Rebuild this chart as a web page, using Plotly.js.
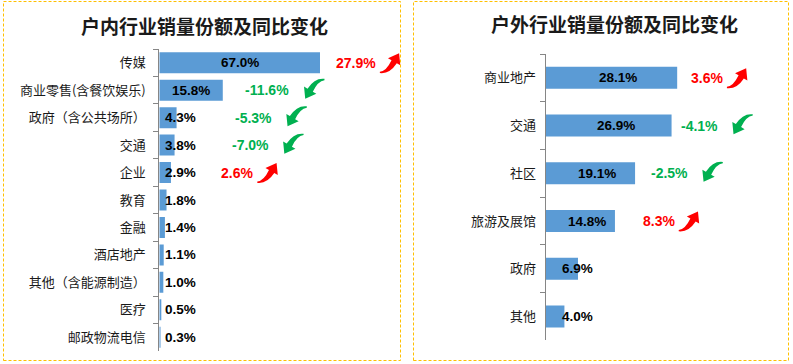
<!DOCTYPE html>
<html><head><meta charset="utf-8">
<script src="https://cdn.plot.ly/plotly-3.0.1.min.js"></script>
<style>html,body{margin:0;padding:0;background:#fff}#chart{width:793px;height:364px}</style>
</head><body><div id="chart"></div>
<script>
// ---- data ----
var indoorCategories = ['传媒','商业零售(含餐饮娱乐)','政府（含公共场所）','交通','企业','教育','金融','酒店地产','其他（含能源制造）','医疗','邮政物流电信'];
var indoorShare = [67.0,15.8,4.3,3.8,2.9,1.8,1.4,1.1,1.0,0.5,0.3];
var indoorChange = [27.9,-11.6,-5.3,-7.0,2.6,null,null,null,null,null,null];
var outdoorCategories = ['商业地产','交通','社区','旅游及展馆','政府','其他'];
var outdoorShare = [28.1,26.9,19.1,14.8,6.9,4.0];
var outdoorChange = [3.6,-4.1,-2.5,8.3,null,null];
var indoorTitle = '户内行业销量份额及同比变化';
var outdoorTitle = '户外行业销量份额及同比变化';

// ---- layout config ----
var W = 793, H = 364;
var panels = [
  {cats: indoorCategories, vals: indoorShare, chg: indoorChange, xa: 'x', ya: 'y',
   px0: 159.3, px1: 320, py0: 49, py1: 351, xmax: 40, minLabelX: 5.3, labelPad: 0, barW: 0.765,
   standoff: 10, chgRight: [54.4, 32.9, 28.5, 27.7, 23.9], title: indoorTitle, titleX: 204, titleY: 25.5,
   box: [3.5, 1.5, 400.5, 360.5]},
  {cats: outdoorCategories, vals: outdoorShare, chg: outdoorChange, xa: 'x2', ya: 'y2',
   px0: 545.7, px1: 770.3, py0: 54, py1: 340.3, xmax: 48, minLabelX: 6.7, labelPad: 1.5, barW: 0.461,
   standoff: 6, chgRight: [38.3, 37.2, 30.8, 28.0], title: outdoorTitle, titleX: 614, titleY: 24,
   box: [413.5, 1.5, 788.5, 360.5]}
];

var BAR = '#5B9BD5', RED = '#FF0000', GREEN = '#00B050', AXIS = '#868686';
var NUMFONT = 'Liberation Sans, Arial, sans-serif';
var CJK = 'Noto Sans CJK SC, sans-serif';

// curved arrow outline (local pixels, y up), tail at origin, head up-right
var arrowPts = [['M',[0,-0.3]],['Q',[8.8,-1.4],[15.4,8.6]],['L',[18.6,6.75]],['L',[17.5,17.8]],['L',[7.4,13.25]],['L',[10.6,11.4]],['Q',[6,1.6],[0,0.9]],['Z']];
var arrowScale = 1.1;
function arrowPath(s, ox, oy) {
  return arrowPts.map(function (seg) {
    var c = seg[0];
    var pts = seg.slice(1).map(function (p) {
      return (ox + s * arrowScale * p[0]).toFixed(2) + ',' + (oy + s * arrowScale * p[1]).toFixed(2);
    });
    return c + pts.join(' ');
  }).join(' ');
}

var data = [], annotations = [], shapes = [];
var layout = {
  width: W, height: H, margin: {l: 0, r: 0, t: 0, b: 0},
  paper_bgcolor: '#fff', plot_bgcolor: 'rgba(0,0,0,0)',
  showlegend: false, hovermode: false
};

panels.forEach(function (p, pi) {
  var n = p.cats.length;
  var sfx = pi === 0 ? '' : '2';
  data.push({
    type: 'bar', orientation: 'h', x: p.vals, y: p.cats, xaxis: p.xa, yaxis: p.ya,
    width: p.barW, marker: {color: BAR, line: {width: 0}}, hoverinfo: 'none'
  });
  layout['xaxis' + sfx] = {
    domain: [p.px0 / W, p.px1 / W], range: [0, p.xmax], anchor: p.ya,
    visible: false, fixedrange: true
  };
  layout['yaxis' + sfx] = {
    domain: [1 - p.py1 / H, 1 - p.py0 / H], anchor: p.xa, type: 'category',
    autorange: 'reversed', showline: true, linecolor: AXIS, linewidth: 1,
    ticks: 'outside', tickson: 'boundaries', ticklen: 5, tickcolor: AXIS, tickwidth: 1,
    showgrid: false, zeroline: false, ticklabelstandoff: p.standoff,
    tickfont: {family: CJK, size: 13, color: '#1a1a1a'}, fixedrange: true
  };
  var k = (p.px1 - p.px0) / p.xmax;
  var yTop = 1 - p.py0 / H, yBot = 1 - p.py1 / H;
  p.vals.forEach(function (v, i) {
    var lx = Math.max(Math.min(v, p.xmax) / 2 + p.labelPad, p.minLabelX);
    annotations.push({
      xref: p.xa, yref: p.ya, x: lx, y: p.cats[i], showarrow: false,
      xanchor: 'center', yanchor: 'middle',
      text: '<b>' + v.toFixed(1) + '%</b>', font: {family: NUMFONT, size: 13.5, color: '#000'}
    });
    var c = p.chg[i];
    if (c !== null && c !== undefined) {
      var up = c > 0;
      var col = up ? RED : GREEN;
      var ax = (p.px0 + p.chgRight[i] * k) / W;
      var ay = yTop - (i + 0.5) / n * (yTop - yBot);
      annotations.push({
        xref: 'paper', yref: 'paper', x: ax, y: ay, xanchor: 'right', yanchor: 'middle', showarrow: false,
        text: '<b>' + c.toFixed(1) + '%</b>', font: {family: NUMFONT, size: 14, color: col}
      });
      shapes.push({
        type: 'path', xref: 'paper', yref: 'paper', xsizemode: 'pixel', ysizemode: 'pixel',
        xanchor: ax, yanchor: ay,
        path: up ? arrowPath(1, 2, -10) : arrowPath(-1, 33, 11),
        fillcolor: col, line: {width: 0}, layer: 'above'
      });
    }
  });
  annotations.push({
    xref: 'paper', yref: 'paper', x: p.titleX / W, y: 1 - p.titleY / H, showarrow: false,
    xanchor: 'center', yanchor: 'middle',
    text: '<b>' + p.title + '</b>', font: {family: CJK, size: 19, color: '#1a1a1a'}
  });
  shapes.push({
    type: 'rect', xref: 'paper', yref: 'paper',
    x0: p.box[0] / W, x1: p.box[2] / W, y0: 1 - p.box[3] / H, y1: 1 - p.box[1] / H,
    line: {color: '#FFC000', width: 1, dash: '3px,2px'}, fillcolor: 'rgba(0,0,0,0)'
  });
});

layout.annotations = annotations;
layout.shapes = shapes;
Plotly.newPlot('chart', data, layout, {staticPlot: true, displayModeBar: false});
</script></body></html>
